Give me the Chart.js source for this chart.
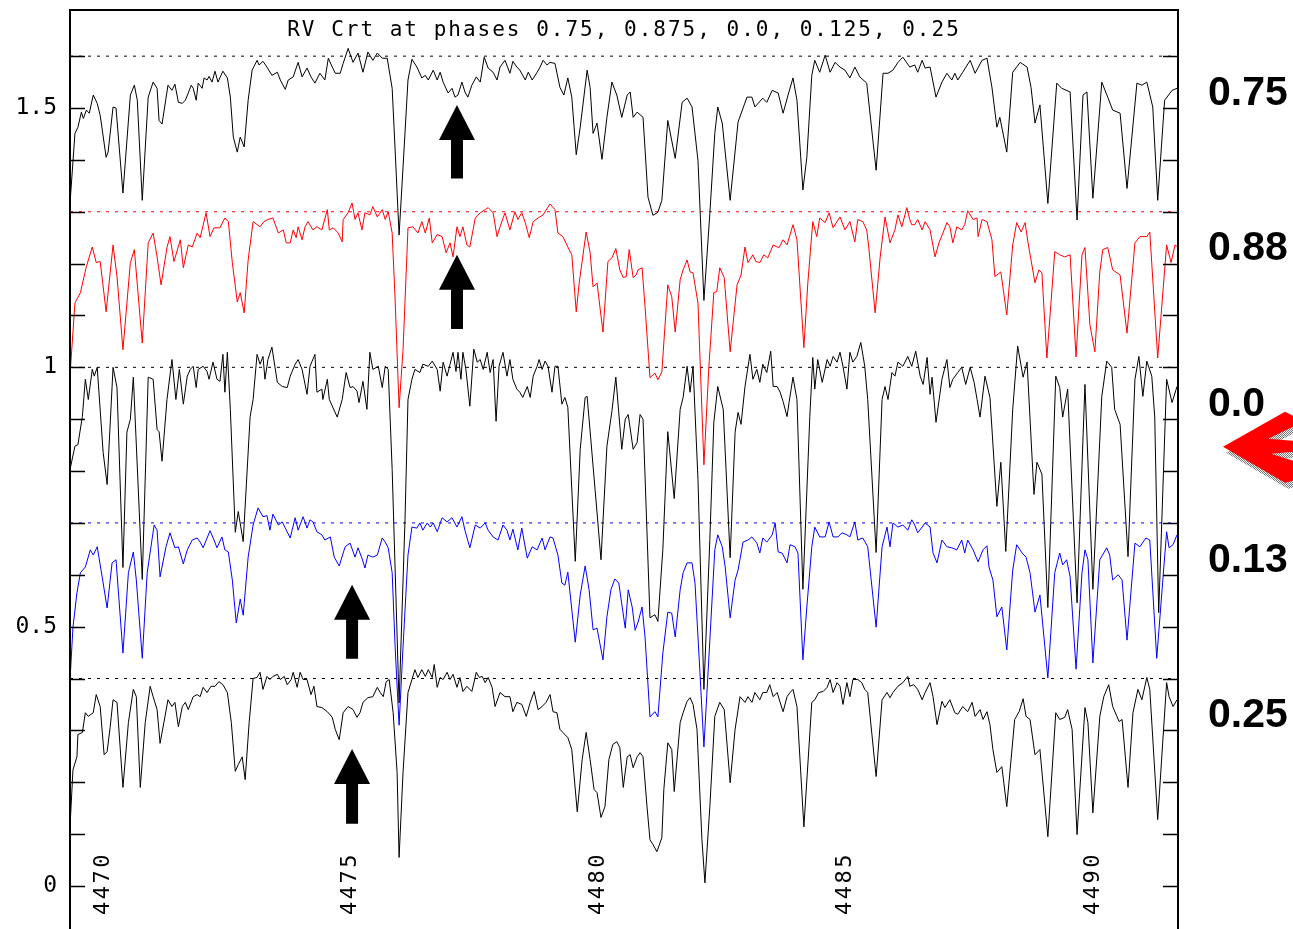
<!DOCTYPE html>
<html>
<head>
<meta charset="utf-8">
<title>RV Crt at phases</title>
<script src="https://cdn.jsdelivr.net/npm/chart.js@4.4.1/dist/chart.umd.min.js"></script>
<style>
  html, body { margin: 0; padding: 0; background: #fff; overflow: hidden; }
  #wrap { width: 1293px; height: 929px; }
</style>
</head>
<body>
<div id="wrap"><canvas id="spectra" width="1293" height="929"></canvas></div>
<script>
// normalised spectra [wavelength (A), flux], one list per phase
const phase075 = [
  [4469.33,0.716],[4469.43,0.851],[4469.49,0.863],[4469.56,0.892],[4469.60,0.880],[4469.66,0.896],[4469.72,0.890],[4469.80,0.925],[4469.88,0.909],[4469.94,0.886],
  [4470.06,0.805],[4470.10,0.815],[4470.20,0.902],[4470.26,0.900],[4470.40,0.736],[4470.55,0.925],[4470.63,0.944],[4470.69,0.915],[4470.79,0.722],[4470.91,0.921],
  [4471.01,0.950],[4471.09,0.938],[4471.13,0.876],[4471.19,0.869],[4471.31,0.944],[4471.39,0.934],[4471.45,0.946],[4471.52,0.911],[4471.60,0.909],[4471.66,0.915],[4471.72,0.929],[4471.78,0.944],[4471.82,0.938],[4471.88,0.915],[4471.92,0.948],
  [4472.00,0.938],[4472.04,0.958],[4472.10,0.954],[4472.14,0.961],[4472.20,0.950],[4472.26,0.971],[4472.32,0.950],[4472.42,0.971],[4472.51,0.958],[4472.57,0.921],[4472.63,0.844],[4472.71,0.815],[4472.77,0.844],[4472.85,0.825],[4472.93,0.915],
  [4473.01,0.973],[4473.11,0.992],[4473.15,0.983],[4473.23,0.990],[4473.31,0.979],[4473.41,0.963],[4473.52,0.969],[4473.58,0.954],[4473.68,0.936],[4473.74,0.954],[4473.84,0.960],[4473.94,0.988],
  [4474.02,0.960],[4474.12,0.977],[4474.20,0.960],[4474.28,0.948],[4474.38,0.967],[4474.48,0.954],[4474.55,0.996],[4474.63,0.979],[4474.69,0.967],[4474.79,0.967],[4474.85,0.986],[4474.95,1.015],
  [4475.05,0.988],[4475.15,1.006],[4475.25,0.969],[4475.35,1.008],[4475.45,0.992],[4475.54,1.006],[4475.64,0.996],[4475.74,0.996],[4475.84,0.938],[4475.90,0.819],[4475.98,0.655],
  [4476.06,0.786],[4476.16,0.954],[4476.24,0.994],[4476.34,0.979],[4476.44,0.958],[4476.51,0.963],[4476.57,0.954],[4476.67,0.973],[4476.75,0.954],[4476.81,0.969],[4476.87,0.950],[4476.97,0.929],
  [4477.05,0.938],[4477.11,0.921],[4477.17,0.925],[4477.25,0.950],[4477.31,0.931],[4477.37,0.921],[4477.45,0.944],[4477.54,0.960],[4477.62,0.950],[4477.70,0.998],[4477.78,0.977],[4477.88,0.969],[4477.96,0.954],
  [4478.02,0.979],[4478.12,0.992],[4478.22,0.967],[4478.28,0.990],[4478.36,0.979],[4478.42,0.973],[4478.53,0.954],[4478.59,0.969],[4478.67,0.954],[4478.77,0.969],[4478.83,0.979],[4478.89,0.992],[4478.97,0.983],
  [4479.03,0.988],[4479.13,0.986],[4479.23,0.940],[4479.31,0.925],[4479.39,0.958],[4479.47,0.921],[4479.56,0.810],[4479.64,0.863],[4479.78,0.973],[4479.84,0.940],[4479.90,0.851],[4479.98,0.871],
  [4480.08,0.801],[4480.18,0.882],[4480.28,0.950],[4480.38,0.925],[4480.48,0.882],[4480.59,0.925],[4480.65,0.931],[4480.71,0.882],[4480.79,0.892],[4480.91,0.882],
  [4481.01,0.728],[4481.11,0.693],[4481.21,0.699],[4481.29,0.722],[4481.41,0.876],[4481.56,0.803],[4481.70,0.911],[4481.80,0.919],[4481.90,0.902],
  [4482.02,0.799],[4482.14,0.529],[4482.26,0.697],[4482.36,0.851],[4482.42,0.902],[4482.51,0.871],[4482.67,0.722],[4482.83,0.873],
  [4483.01,0.921],[4483.11,0.921],[4483.17,0.902],[4483.33,0.919],[4483.41,0.911],[4483.52,0.934],[4483.64,0.929],[4483.74,0.890],[4483.84,0.925],[4483.94,0.958],
  [4484.02,0.915],[4484.14,0.742],[4484.22,0.805],[4484.32,0.963],[4484.38,0.992],[4484.48,0.969],[4484.59,1.002],[4484.69,0.969],[4484.79,0.988],[4484.89,0.979],[4484.99,0.973],
  [4485.09,0.958],[4485.19,0.979],[4485.29,0.960],[4485.43,0.948],[4485.62,0.780],[4485.76,0.967],[4485.86,0.967],[4485.96,0.973],
  [4486.06,0.988],[4486.16,0.998],[4486.30,0.979],[4486.40,0.983],[4486.46,0.969],[4486.55,0.992],[4486.61,0.977],[4486.71,0.979],[4486.83,0.921],[4486.95,0.950],
  [4487.05,0.967],[4487.15,0.954],[4487.21,0.967],[4487.27,0.954],[4487.37,0.969],[4487.52,0.992],[4487.62,0.967],[4487.76,0.992],[4487.86,0.996],[4487.96,0.940],
  [4488.06,0.863],[4488.12,0.882],[4488.26,0.815],[4488.38,0.969],[4488.53,0.988],[4488.67,0.979],[4488.75,0.940],[4488.83,0.871],[4488.93,0.906],
  [4489.09,0.716],[4489.27,0.948],[4489.37,0.938],[4489.54,0.931],[4489.68,0.684],[4489.80,0.925],[4489.88,0.931],
  [4490.00,0.726],[4490.18,0.950],[4490.30,0.921],[4490.40,0.896],[4490.55,0.890],[4490.69,0.745],[4490.89,0.948],[4490.99,0.944],
  [4491.09,0.950],[4491.21,0.902],[4491.31,0.722],[4491.45,0.915],[4491.60,0.934],[4491.70,0.938],[4491.80,0.942]
];

const phase088 = [
  [4469.33,0.685],[4469.43,0.824],[4469.54,0.844],[4469.66,0.894],[4469.78,0.932],[4469.86,0.902],[4469.94,0.904],
  [4470.06,0.807],[4470.20,0.936],[4470.28,0.875],[4470.40,0.734],[4470.55,0.902],[4470.63,0.927],[4470.79,0.747],[4470.91,0.940],
  [4471.01,0.959],[4471.09,0.913],[4471.17,0.859],[4471.29,0.931],[4471.35,0.952],[4471.43,0.904],[4471.56,0.946],[4471.62,0.892],[4471.72,0.936],[4471.80,0.932],[4471.90,0.959],[4471.96,0.950],
  [4472.08,0.998],[4472.16,0.952],[4472.24,0.969],[4472.36,0.969],[4472.46,0.988],[4472.53,0.981],[4472.61,0.902],[4472.71,0.826],[4472.77,0.844],[4472.85,0.805],[4472.93,0.907],
  [4473.03,0.981],[4473.17,0.971],[4473.25,0.981],[4473.33,0.985],[4473.43,0.988],[4473.54,0.959],[4473.64,0.965],[4473.70,0.940],[4473.78,0.940],[4473.84,0.965],[4473.90,0.950],[4473.94,0.971],
  [4474.02,0.946],[4474.08,0.971],[4474.14,0.981],[4474.24,0.965],[4474.32,0.971],[4474.42,0.965],[4474.53,1.004],[4474.57,0.965],[4474.65,0.969],[4474.75,0.959],[4474.83,0.942],[4474.85,0.985],[4474.95,0.998],
  [4475.03,1.017],[4475.09,0.985],[4475.15,0.998],[4475.23,0.965],[4475.29,0.998],[4475.39,0.994],[4475.45,1.010],[4475.54,0.990],[4475.64,1.004],[4475.70,0.985],[4475.76,1.000],[4475.84,0.959],[4475.90,0.830],[4475.98,0.622],
  [4476.06,0.734],[4476.16,0.969],[4476.26,0.971],[4476.36,0.959],[4476.44,0.981],[4476.51,0.959],[4476.59,0.988],[4476.65,0.940],[4476.75,0.956],[4476.85,0.952],[4476.93,0.921],
  [4477.01,0.940],[4477.07,0.913],[4477.15,0.971],[4477.21,0.952],[4477.27,0.971],[4477.35,0.936],[4477.41,0.932],[4477.52,0.988],[4477.62,0.998],[4477.72,1.004],[4477.78,1.008],[4477.88,0.998],[4477.96,0.952],
  [4478.02,0.971],[4478.12,0.998],[4478.22,0.965],[4478.32,1.000],[4478.38,0.985],[4478.46,0.998],[4478.53,0.979],[4478.61,0.950],[4478.69,0.981],[4478.79,0.988],[4478.89,0.994],
  [4479.03,1.015],[4479.13,1.004],[4479.19,0.959],[4479.29,0.952],[4479.39,0.932],[4479.47,0.917],[4479.56,0.807],[4479.62,0.863],[4479.76,0.961],[4479.84,0.921],[4479.90,0.855],[4479.98,0.863],
  [4480.10,0.768],[4480.20,0.904],[4480.28,0.911],[4480.36,0.929],[4480.44,0.888],[4480.51,0.873],[4480.57,0.875],[4480.63,0.927],[4480.71,0.873],[4480.77,0.878],[4480.81,0.888],[4480.89,0.892],[4480.95,0.817],
  [4481.05,0.680],[4481.15,0.689],[4481.21,0.676],[4481.29,0.691],[4481.41,0.859],[4481.49,0.836],[4481.56,0.768],[4481.66,0.869],[4481.72,0.888],[4481.80,0.907],[4481.86,0.884],[4481.92,0.882],
  [4482.02,0.824],[4482.14,0.512],[4482.24,0.701],[4482.34,0.844],[4482.40,0.846],[4482.46,0.892],[4482.55,0.873],[4482.67,0.730],[4482.81,0.859],[4482.89,0.878],[4482.97,0.932],
  [4483.03,0.902],[4483.13,0.917],[4483.19,0.904],[4483.27,0.902],[4483.35,0.917],[4483.43,0.911],[4483.54,0.936],[4483.62,0.932],[4483.66,0.931],[4483.74,0.946],[4483.82,0.936],[4483.94,0.975],
  [4484.02,0.946],[4484.16,0.738],[4484.24,0.863],[4484.34,0.981],[4484.42,0.952],[4484.48,0.988],[4484.59,0.979],[4484.67,0.998],[4484.75,0.969],[4484.89,0.990],[4484.99,0.965],
  [4485.09,0.981],[4485.19,0.942],[4485.25,0.985],[4485.35,0.981],[4485.43,0.965],[4485.47,0.932],[4485.60,0.805],[4485.70,0.911],[4485.80,0.990],[4485.90,0.940],
  [4486.00,0.965],[4486.06,0.994],[4486.14,0.971],[4486.24,1.008],[4486.30,0.985],[4486.34,0.975],[4486.40,0.975],[4486.46,0.985],[4486.55,0.965],[4486.61,0.981],[4486.71,0.965],[4486.81,0.913],[4486.89,0.940],[4486.97,0.959],
  [4487.05,0.979],[4487.11,0.971],[4487.17,0.940],[4487.25,0.971],[4487.35,0.965],[4487.41,0.975],[4487.47,1.002],[4487.58,0.985],[4487.66,0.988],[4487.68,0.952],[4487.76,0.985],[4487.86,0.981],[4487.96,0.946],
  [4488.02,0.875],[4488.14,0.884],[4488.26,0.801],[4488.38,0.936],[4488.46,0.979],[4488.55,0.961],[4488.63,0.979],[4488.69,0.940],[4488.83,0.863],[4488.91,0.888],[4488.97,0.882],
  [4489.07,0.718],[4489.23,0.923],[4489.33,0.917],[4489.43,0.913],[4489.54,0.917],[4489.66,0.720],[4489.78,0.917],[4489.84,0.931],[4489.94,0.782],
  [4490.04,0.730],[4490.14,0.884],[4490.20,0.927],[4490.30,0.931],[4490.40,0.888],[4490.55,0.878],[4490.69,0.766],[4490.85,0.940],[4490.95,0.952],
  [4491.09,0.952],[4491.15,0.961],[4491.31,0.718],[4491.49,0.936],[4491.58,0.902],[4491.66,0.936],[4491.72,0.932],[4491.80,0.935]
];

const phase000 = [
  [4469.33,0.803],[4469.43,0.848],[4469.49,0.851],[4469.58,0.905],[4469.64,0.977],[4469.70,0.938],[4469.78,0.996],[4469.82,0.983],[4469.88,1.000],
  [4470.00,0.836],[4470.08,0.774],[4470.20,1.000],[4470.28,0.961],[4470.40,0.614],[4470.48,0.875],[4470.55,0.900],[4470.61,0.981],[4470.79,0.591],[4470.91,0.981],
  [4471.01,0.977],[4471.09,0.880],[4471.13,0.876],[4471.19,0.819],[4471.29,0.938],[4471.39,1.015],[4471.47,0.938],[4471.54,0.996],[4471.62,0.929],[4471.70,0.983],[4471.76,0.996],[4471.82,1.002],[4471.88,0.961],[4471.92,0.996],
  [4472.02,1.002],[4472.10,0.992],[4472.14,0.977],[4472.22,1.010],[4472.30,0.977],[4472.36,0.973],[4472.42,1.025],[4472.46,0.952],[4472.51,1.029],[4472.57,0.919],[4472.67,0.682],[4472.73,0.722],[4472.83,0.664],[4472.97,0.905],
  [4473.03,0.938],[4473.11,1.025],[4473.17,1.006],[4473.23,1.021],[4473.27,0.977],[4473.33,1.015],[4473.41,1.039],[4473.47,1.002],[4473.52,0.971],[4473.62,0.963],[4473.72,0.961],[4473.78,0.983],[4473.88,1.006],[4473.94,1.015],
  [4474.02,0.996],[4474.12,0.948],[4474.18,1.002],[4474.28,1.025],[4474.32,0.952],[4474.42,0.958],[4474.44,0.938],[4474.53,0.977],[4474.57,0.938],[4474.73,0.904],[4474.83,0.938],[4474.91,0.990],[4474.99,0.961],
  [4475.05,0.963],[4475.13,0.954],[4475.17,0.932],[4475.25,0.973],[4475.33,0.919],[4475.39,1.029],[4475.45,0.996],[4475.56,1.002],[4475.64,0.961],[4475.70,1.002],[4475.76,0.996],[4475.84,0.803],[4475.98,0.353],
  [4476.10,0.707],[4476.16,0.938],[4476.24,0.977],[4476.30,0.996],[4476.40,0.990],[4476.46,1.006],[4476.57,1.002],[4476.65,1.012],[4476.75,0.996],[4476.81,0.954],[4476.87,1.010],[4476.95,0.983],
  [4477.01,1.006],[4477.07,1.029],[4477.13,0.992],[4477.17,1.029],[4477.23,0.977],[4477.27,1.029],[4477.33,0.996],[4477.41,0.925],[4477.49,1.035],[4477.56,1.010],[4477.62,1.015],[4477.68,0.996],[4477.76,1.029],[4477.82,0.990],[4477.88,1.015],[4477.94,0.896],
  [4478.00,1.002],[4478.08,1.029],[4478.16,0.983],[4478.22,1.015],[4478.28,0.977],[4478.36,0.958],[4478.42,0.952],[4478.48,0.942],[4478.57,0.963],[4478.63,0.942],[4478.69,0.983],[4478.77,1.002],[4478.81,1.015],[4478.87,0.996],[4478.93,1.012],[4478.99,1.002],
  [4479.07,0.952],[4479.13,1.002],[4479.19,1.002],[4479.27,0.929],[4479.33,0.942],[4479.39,0.923],[4479.54,0.626],[4479.64,0.842],[4479.74,0.942],[4479.78,0.944],[4479.94,0.765],
  [4480.06,0.629],[4480.18,0.848],[4480.28,0.915],[4480.36,0.981],[4480.48,0.842],[4480.55,0.900],[4480.61,0.909],[4480.71,0.842],[4480.79,0.855],[4480.85,0.909],[4480.91,0.900],
  [4481.05,0.517],[4481.15,0.523],[4481.21,0.510],[4481.31,0.649],[4481.41,0.876],[4481.54,0.747],[4481.66,0.919],[4481.72,0.942],[4481.80,1.002],[4481.86,0.952],[4481.92,1.002],
  [4482.02,0.784],[4482.14,0.379],[4482.26,0.668],[4482.34,0.894],[4482.42,0.963],[4482.53,0.919],[4482.67,0.633],[4482.77,0.875],[4482.83,0.913],[4482.89,0.890],[4482.97,0.963],
  [4483.07,1.025],[4483.13,0.977],[4483.21,0.996],[4483.27,0.971],[4483.33,1.006],[4483.41,0.990],[4483.49,1.031],[4483.54,0.963],[4483.62,0.963],[4483.68,0.952],[4483.74,0.934],[4483.82,0.905],[4483.86,0.932],[4483.94,0.981],
  [4484.02,0.938],[4484.14,0.572],[4484.28,0.905],[4484.34,1.019],[4484.38,0.958],[4484.44,1.015],[4484.53,0.971],[4484.63,1.015],[4484.69,1.002],[4484.75,1.021],[4484.83,1.010],[4484.89,1.029],[4484.95,1.002],
  [4485.03,0.958],[4485.09,1.029],[4485.15,1.010],[4485.23,1.021],[4485.31,1.048],[4485.39,1.002],[4485.45,0.938],[4485.62,0.643],[4485.74,0.938],[4485.80,0.963],[4485.86,0.938],[4485.94,0.990],
  [4486.00,0.983],[4486.06,1.010],[4486.16,1.002],[4486.26,1.021],[4486.34,1.002],[4486.42,1.031],[4486.51,0.983],[4486.57,0.967],[4486.65,1.019],[4486.71,0.948],[4486.75,0.981],[4486.83,0.894],[4486.95,0.977],
  [4487.05,1.015],[4487.11,0.961],[4487.17,0.977],[4487.27,0.990],[4487.35,1.000],[4487.43,0.967],[4487.52,1.000],[4487.60,0.971],[4487.66,0.938],[4487.72,0.904],[4487.82,0.983],[4487.92,0.942],
  [4488.06,0.732],[4488.14,0.817],[4488.24,0.645],[4488.38,0.919],[4488.48,1.041],[4488.59,0.981],[4488.67,1.010],[4488.81,0.755],[4488.87,0.817],[4488.97,0.794],
  [4489.09,0.537],[4489.25,0.983],[4489.33,0.961],[4489.39,0.904],[4489.49,0.958],[4489.68,0.546],[4489.84,0.967],
  [4490.00,0.572],[4490.18,0.944],[4490.28,1.012],[4490.38,1.000],[4490.44,0.919],[4490.55,0.890],[4490.71,0.635],[4490.85,0.977],[4490.93,1.021],
  [4491.01,0.944],[4491.09,1.012],[4491.19,0.983],[4491.25,0.904],[4491.33,0.527],[4491.49,0.977],[4491.60,0.932],[4491.70,0.963],[4491.80,0.970]
];

const phase013 = [
  [4469.33,0.697],[4469.39,0.799],[4469.47,0.865],[4469.54,0.904],[4469.64,0.915],[4469.74,0.948],[4469.80,0.938],[4469.88,0.954],[4469.98,0.896],
  [4470.08,0.836],[4470.18,0.923],[4470.26,0.929],[4470.40,0.749],[4470.51,0.904],[4470.61,0.944],[4470.67,0.890],[4470.79,0.739],[4470.89,0.904],
  [4471.03,0.996],[4471.09,0.986],[4471.15,0.896],[4471.27,0.954],[4471.35,0.981],[4471.45,0.952],[4471.52,0.954],[4471.62,0.921],[4471.70,0.948],[4471.80,0.967],[4471.90,0.971],[4471.96,0.963],
  [4472.02,0.952],[4472.16,0.985],[4472.24,0.967],[4472.30,0.952],[4472.40,0.973],[4472.46,0.948],[4472.53,0.944],[4472.61,0.890],[4472.69,0.807],[4472.77,0.853],[4472.83,0.822],[4472.93,0.934],
  [4473.03,0.996],[4473.13,1.029],[4473.23,1.012],[4473.31,1.014],[4473.37,0.986],[4473.43,1.017],[4473.54,0.996],[4473.62,1.002],[4473.68,0.990],[4473.78,0.971],[4473.88,1.010],[4473.94,0.986],
  [4474.04,1.012],[4474.12,0.990],[4474.18,1.006],[4474.24,1.002],[4474.32,0.983],[4474.42,0.977],[4474.48,0.967],[4474.59,0.973],[4474.67,0.934],[4474.77,0.917],[4474.89,0.954],[4474.99,0.961],
  [4475.09,0.934],[4475.15,0.952],[4475.23,0.932],[4475.29,0.913],[4475.35,0.938],[4475.45,0.934],[4475.54,0.938],[4475.64,0.971],[4475.70,0.963],[4475.76,0.952],[4475.84,0.904],[4475.90,0.761],[4475.98,0.610],
  [4476.06,0.761],[4476.16,0.938],[4476.24,0.992],[4476.34,0.990],[4476.40,1.000],[4476.46,0.986],[4476.55,1.000],[4476.61,0.992],[4476.67,1.000],[4476.75,0.983],[4476.85,1.010],[4476.95,1.002],
  [4477.05,1.010],[4477.15,0.992],[4477.25,1.012],[4477.31,0.986],[4477.41,0.952],[4477.52,0.996],[4477.62,0.990],[4477.72,1.000],[4477.78,0.986],[4477.88,0.973],[4477.98,0.967],
  [4478.08,0.996],[4478.16,0.986],[4478.22,0.967],[4478.28,0.988],[4478.38,0.948],[4478.46,0.990],[4478.57,0.932],[4478.67,0.954],[4478.77,0.948],[4478.87,0.971],[4478.93,0.948],
  [4479.03,0.973],[4479.09,0.971],[4479.19,0.938],[4479.27,0.884],[4479.33,0.880],[4479.39,0.905],[4479.54,0.770],[4479.64,0.861],[4479.74,0.917],[4479.82,0.871],[4479.90,0.794],[4479.98,0.797],
  [4480.10,0.736],[4480.18,0.819],[4480.26,0.871],[4480.34,0.892],[4480.42,0.884],[4480.55,0.797],[4480.61,0.871],[4480.69,0.838],[4480.75,0.793],[4480.81,0.809],[4480.89,0.838],[4480.95,0.780],
  [4481.05,0.626],[4481.15,0.636],[4481.21,0.626],[4481.31,0.749],[4481.41,0.828],[4481.49,0.826],[4481.56,0.780],[4481.66,0.871],[4481.72,0.904],[4481.80,0.923],[4481.90,0.923],[4481.96,0.884],
  [4482.06,0.711],[4482.14,0.568],[4482.26,0.774],[4482.36,0.948],[4482.42,0.977],[4482.51,0.954],[4482.57,0.915],[4482.67,0.817],[4482.77,0.890],[4482.83,0.909],[4482.93,0.963],
  [4483.03,0.967],[4483.11,0.973],[4483.21,0.961],[4483.27,0.942],[4483.33,0.971],[4483.41,0.963],[4483.52,0.977],[4483.58,1.000],[4483.64,0.944],[4483.72,0.942],[4483.82,0.923],[4483.88,0.958],[4483.98,0.954],
  [4484.04,0.942],[4484.14,0.736],[4484.22,0.838],[4484.32,0.954],[4484.38,0.992],[4484.48,0.973],[4484.59,0.973],[4484.67,1.002],[4484.75,0.973],[4484.85,0.973],[4484.93,0.981],
  [4485.03,0.977],[4485.09,0.973],[4485.19,1.002],[4485.25,0.967],[4485.35,0.971],[4485.45,0.954],[4485.62,0.799],[4485.74,0.954],[4485.84,0.992],[4485.90,0.954],[4485.96,1.000],
  [4486.06,0.992],[4486.16,0.996],[4486.26,0.986],[4486.34,1.006],[4486.40,0.996],[4486.46,0.981],[4486.55,0.992],[4486.61,1.000],[4486.71,0.992],[4486.77,0.942],[4486.85,0.923],[4486.95,0.967],
  [4487.05,0.954],[4487.15,0.952],[4487.25,0.948],[4487.35,0.967],[4487.41,0.942],[4487.47,0.967],[4487.58,0.948],[4487.68,0.925],[4487.78,0.948],[4487.86,0.956],[4487.90,0.915],[4487.98,0.890],
  [4488.06,0.819],[4488.16,0.838],[4488.26,0.755],[4488.38,0.909],[4488.46,0.958],[4488.57,0.942],[4488.65,0.934],[4488.73,0.904],[4488.83,0.828],[4488.93,0.861],
  [4489.09,0.701],[4489.23,0.904],[4489.33,0.942],[4489.39,0.919],[4489.47,0.929],[4489.54,0.896],[4489.66,0.718],[4489.78,0.904],[4489.84,0.948],[4489.90,0.929],
  [4490.00,0.730],[4490.14,0.929],[4490.28,0.952],[4490.34,0.938],[4490.40,0.890],[4490.51,0.900],[4490.59,0.890],[4490.69,0.774],[4490.85,0.961],[4490.95,0.954],
  [4491.07,0.971],[4491.15,0.967],[4491.29,0.739],[4491.49,0.983],[4491.54,0.952],[4491.62,0.958],[4491.70,0.977],[4491.80,0.975]
];

const phase025 = [
  [4469.33,0.714],[4469.39,0.824],[4469.47,0.849],[4469.49,0.892],[4469.58,0.896],[4469.64,0.934],[4469.70,0.927],[4469.80,0.934],[4469.86,0.969],[4469.94,0.946],
  [4470.02,0.853],[4470.08,0.859],[4470.14,0.905],[4470.20,0.959],[4470.28,0.954],[4470.40,0.790],[4470.51,0.915],[4470.61,0.979],[4470.67,0.965],[4470.75,0.790],[4470.85,0.915],[4470.95,0.985],
  [4471.01,0.965],[4471.09,0.940],[4471.15,0.875],[4471.25,0.927],[4471.31,0.959],[4471.39,0.946],[4471.45,0.954],[4471.52,0.907],[4471.60,0.946],[4471.66,0.954],[4471.72,0.940],[4471.82,0.965],[4471.90,0.969],[4471.96,0.965],
  [4472.02,0.983],[4472.10,0.973],[4472.18,0.985],[4472.26,0.985],[4472.34,0.994],[4472.42,0.988],[4472.51,0.973],[4472.59,0.915],[4472.67,0.821],[4472.73,0.834],[4472.81,0.849],[4472.87,0.805],[4472.95,0.915],
  [4473.03,1.000],[4473.11,1.002],[4473.17,1.012],[4473.23,0.979],[4473.31,1.004],[4473.37,0.998],[4473.43,1.004],[4473.52,1.008],[4473.58,0.998],[4473.66,1.004],[4473.72,0.988],[4473.80,0.998],[4473.84,1.012],[4473.92,0.983],[4473.98,1.012],
  [4474.04,0.998],[4474.12,0.998],[4474.20,0.969],[4474.26,0.985],[4474.32,0.946],[4474.42,0.944],[4474.53,0.936],[4474.63,0.925],[4474.69,0.902],[4474.77,0.882],[4474.85,0.934],[4474.95,0.946],
  [4475.05,0.940],[4475.13,0.925],[4475.19,0.934],[4475.25,0.954],[4475.35,0.963],[4475.45,0.965],[4475.54,0.983],[4475.60,0.973],[4475.66,0.965],[4475.72,0.994],[4475.78,0.998],[4475.86,0.934],[4475.94,0.819],[4475.98,0.655],
  [4476.06,0.819],[4476.16,0.973],[4476.24,0.998],[4476.30,1.017],[4476.36,1.002],[4476.44,1.017],[4476.51,1.004],[4476.57,1.017],[4476.65,1.002],[4476.69,1.027],[4476.75,0.983],[4476.81,1.002],[4476.87,0.998],[4476.95,1.012],
  [4477.01,0.998],[4477.07,1.008],[4477.15,0.983],[4477.21,1.002],[4477.27,0.975],[4477.35,0.985],[4477.45,0.975],[4477.54,1.012],[4477.60,1.002],[4477.66,1.004],[4477.72,0.992],[4477.78,1.002],[4477.86,0.983],[4477.92,0.946],
  [4478.02,0.973],[4478.12,0.965],[4478.22,0.965],[4478.28,0.936],[4478.36,0.954],[4478.46,0.950],[4478.55,0.927],[4478.63,0.954],[4478.71,0.975],[4478.79,0.940],[4478.87,0.946],[4478.95,0.954],
  [4479.03,0.969],[4479.09,0.936],[4479.17,0.934],[4479.23,0.902],[4479.29,0.896],[4479.39,0.886],[4479.47,0.863],[4479.58,0.743],[4479.68,0.844],[4479.76,0.896],[4479.84,0.844],[4479.92,0.786],[4479.98,0.780],
  [4480.06,0.732],[4480.14,0.753],[4480.22,0.844],[4480.30,0.873],[4480.38,0.878],[4480.44,0.867],[4480.51,0.790],[4480.59,0.849],[4480.65,0.853],[4480.71,0.828],[4480.79,0.849],[4480.85,0.857],[4480.91,0.849],[4480.99,0.753],
  [4481.05,0.689],[4481.11,0.680],[4481.19,0.666],[4481.29,0.693],[4481.33,0.786],[4481.41,0.876],[4481.49,0.863],[4481.54,0.782],[4481.66,0.915],[4481.72,0.934],[4481.80,0.956],[4481.86,0.963],[4481.92,0.950],
  [4482.00,0.902],[4482.10,0.689],[4482.16,0.606],[4482.26,0.753],[4482.36,0.927],[4482.46,0.954],[4482.55,0.940],[4482.67,0.799],[4482.77,0.902],[4482.87,0.965],[4482.97,0.954],
  [4483.03,0.965],[4483.11,0.954],[4483.17,0.973],[4483.27,0.959],[4483.33,0.973],[4483.41,0.973],[4483.47,0.988],[4483.54,0.965],[4483.62,0.973],[4483.68,0.954],[4483.74,0.936],[4483.82,0.965],[4483.88,0.973],[4483.94,0.979],
  [4484.02,0.946],[4484.16,0.714],[4484.32,0.954],[4484.38,0.959],[4484.46,0.973],[4484.55,0.975],[4484.63,0.983],[4484.69,0.998],[4484.75,0.973],[4484.83,0.992],[4484.89,0.985],[4484.95,0.950],
  [4485.03,0.992],[4485.09,0.965],[4485.15,0.998],[4485.25,0.998],[4485.33,0.992],[4485.39,0.979],[4485.45,0.973],[4485.62,0.811],[4485.74,0.959],[4485.84,0.973],[4485.90,0.963],[4485.96,0.973],
  [4486.06,0.985],[4486.16,0.992],[4486.26,1.004],[4486.30,0.985],[4486.38,0.988],[4486.46,0.979],[4486.55,0.959],[4486.61,0.973],[4486.71,0.992],[4486.77,0.965],[4486.85,0.911],[4486.95,0.956],
  [4487.01,0.944],[4487.11,0.959],[4487.21,0.934],[4487.27,0.931],[4487.37,0.946],[4487.47,0.936],[4487.56,0.954],[4487.62,0.927],[4487.72,0.940],[4487.78,0.921],[4487.86,0.936],[4487.92,0.911],[4487.98,0.863],
  [4488.06,0.819],[4488.16,0.830],[4488.26,0.753],[4488.42,0.921],[4488.51,0.936],[4488.59,0.961],[4488.65,0.927],[4488.73,0.921],[4488.83,0.853],[4488.93,0.863],
  [4489.09,0.695],[4489.25,0.934],[4489.33,0.921],[4489.43,0.925],[4489.49,0.940],[4489.58,0.902],[4489.68,0.699],[4489.84,0.944],[4489.90,0.915],
  [4490.00,0.741],[4490.14,0.927],[4490.22,0.965],[4490.32,0.988],[4490.40,0.946],[4490.53,0.917],[4490.59,0.921],[4490.71,0.790],[4490.81,0.934],[4490.91,0.979],[4490.99,0.959],
  [4491.09,1.002],[4491.15,0.979],[4491.31,0.728],[4491.49,0.992],[4491.54,0.965],[4491.62,0.946],[4491.70,0.959],[4491.80,0.955]
];

const spectra = [phase075, phase088, phase000, phase013, phase025];
const phaseLabels = ['0.75', '0.88', '0.0', '0.13', '0.25'];
const offsets = [1.6, 1.3, 1.0, 0.7, 0.4];          // continuum level of each spectrum
const lineColors = ['#000000', '#ff0000', '#000000', '#0000ff', '#000000'];
const xTicks = [4470, 4475, 4480, 4485, 4490];
const yTicks = [0, 0.5, 1, 1.5];
const waveRange = [4469.33, 4491.72];
const fluxRange = [-0.083, 1.689];

// arrows marking the weak feature: wavelength, tip and tail level
const arrowWave = [4477.15, 4477.15, 4475.03, 4475.03];
const arrowTip = [1.506, 1.217, 0.581, 0.264];
const arrowTail = [1.364, 1.074, 0.438, 0.120];

const titleText = 'RV Crt at phases 0.75, 0.875, 0.0, 0.125, 0.25';

const datasets = [];
spectra.forEach((spec, i) => {
  datasets.push({
    data: spec.map(([w, f]) => ({ x: w, y: f + offsets[i] - 1 })),
    borderColor: lineColors[i],
    borderWidth: 1,
    pointRadius: 0,
    tension: 0
  });
});
offsets.forEach((off, i) => {
  datasets.push({
    data: [{ x: waveRange[0], y: off }, { x: waveRange[1], y: off }],
    borderColor: lineColors[i],
    borderWidth: 1,
    borderDash: [3, 6],
    pointRadius: 0
  });
});

function shadowPattern(ctx) {
  const c = document.createElement('canvas');
  c.width = 2; c.height = 2;
  const g = c.getContext('2d');
  g.fillStyle = '#eeeeee'; g.fillRect(0, 0, 2, 2);
  g.fillStyle = '#7a7a7a'; g.fillRect(0, 0, 1, 1); g.fillRect(1, 1, 1, 1);
  return ctx.createPattern(c, 'repeat');
}

const decorations = {
  id: 'decorations',
  afterDraw(chart) {
    const { ctx, chartArea: area, scales: { x, y } } = chart;
    ctx.save();

    // frame (open at the bottom)
    ctx.strokeStyle = '#000';
    ctx.lineWidth = 2;
    ctx.beginPath();
    ctx.moveTo(area.left, area.bottom + 2);
    ctx.lineTo(area.left, area.top);
    ctx.lineTo(area.right, area.top);
    ctx.lineTo(area.right, area.bottom + 2);
    ctx.stroke();

    // inward tick marks every 0.1
    ctx.lineWidth = 1.5;
    for (let i = 0; i <= 16; i++) {
      const py = Math.round(y.getPixelForValue(i / 10)) + 0.5;
      ctx.beginPath();
      ctx.moveTo(area.left, py); ctx.lineTo(area.left + 15, py);
      ctx.moveTo(area.right, py); ctx.lineTo(area.right - 15, py);
      ctx.stroke();
    }

    // title
    ctx.fillStyle = '#000';
    ctx.font = '21px "DejaVu Sans Mono"';
    ctx.letterSpacing = '2px';
    ctx.textAlign = 'center';
    ctx.textBaseline = 'middle';
    ctx.fillText(titleText, (area.left + area.right) / 2, area.top + 21);

    // wavelength labels, written upwards inside the frame
    ctx.font = '22px "DejaVu Sans Mono"';
    ctx.letterSpacing = '2.5px';
    ctx.textAlign = 'left';
    xTicks.forEach(v => {
      ctx.save();
      ctx.translate(x.getPixelForValue(v), area.bottom - 14);
      ctx.rotate(-Math.PI / 2);
      ctx.fillText(String(v), 0, 0);
      ctx.restore();
    });
    ctx.letterSpacing = '0px';

    // phase labels on the right
    ctx.font = 'bold 41px "Liberation Sans", Arial, sans-serif';
    ctx.textAlign = 'left';
    offsets.forEach((off, i) => {
      ctx.fillText(phaseLabels[i], area.right + 30, y.getPixelForValue(off - 0.072));
    });

    // black arrows
    ctx.fillStyle = '#000';
    arrowWave.forEach((w, i) => {
      const px = x.getPixelForValue(w);
      const top = y.getPixelForValue(arrowTip[i]);
      const bot = y.getPixelForValue(arrowTail[i]);
      ctx.beginPath();
      ctx.moveTo(px, top);
      ctx.lineTo(px + 18, top + 35);
      ctx.lineTo(px + 6, top + 35);
      ctx.lineTo(px + 6, bot);
      ctx.lineTo(px - 6, bot);
      ctx.lineTo(px - 6, top + 35);
      ctx.lineTo(px - 18, top + 35);
      ctx.closePath();
      ctx.fill();
    });

    // red arrow pointing at the 0.0 spectrum, with a stippled shadow
    const tx = area.right + 45;
    const ty = y.getPixelForValue(0.847);
    const shape = [[0, 0], [62, -35], [70, -31], [70, -20], [45, -8], [70, -6], [70, 5], [48, 7], [70, 14], [70, 34], [62, 36]];
    const drawShape = (dx, dy) => {
      ctx.beginPath();
      shape.forEach(([sx, sy], k) => {
        if (k === 0) ctx.moveTo(tx + sx + dx, ty + sy + dy);
        else ctx.lineTo(tx + sx + dx, ty + sy + dy);
      });
      ctx.closePath();
      ctx.fill();
    };
    ctx.fillStyle = shadowPattern(ctx);
    drawShape(3, 6);
    ctx.fillStyle = '#ff0000';
    drawShape(0, 0);

    ctx.restore();
  }
};

new Chart(document.getElementById('spectra'), {
  type: 'line',
  data: { datasets },
  options: {
    responsive: false,
    animation: false,
    devicePixelRatio: 1,
    events: [],
    layout: { padding: { left: 0, right: 115, top: 10, bottom: 0 } },
    plugins: {
      legend: { display: false },
      tooltip: { enabled: false }
    },
    scales: {
      x: {
        type: 'linear',
        min: waveRange[0],
        max: waveRange[1],
        display: false
      },
      y: {
        type: 'linear',
        min: fluxRange[0],
        max: fluxRange[1],
        afterFit(axis) {
          axis.width = 70;
          axis.paddingTop = 0;
          axis.paddingBottom = 0;
        },
        afterBuildTicks(axis) { axis.ticks = yTicks.map(v => ({ value: v })); },
        grid: { display: false, drawTicks: false },
        border: { display: false },
        ticks: {
          padding: 13,
          color: '#000',
          font: { family: 'DejaVu Sans Mono', size: 23 },
          callback: v => String(v)
        }
      }
    }
  },
  plugins: [decorations]
});
</script>
</body>
</html>
